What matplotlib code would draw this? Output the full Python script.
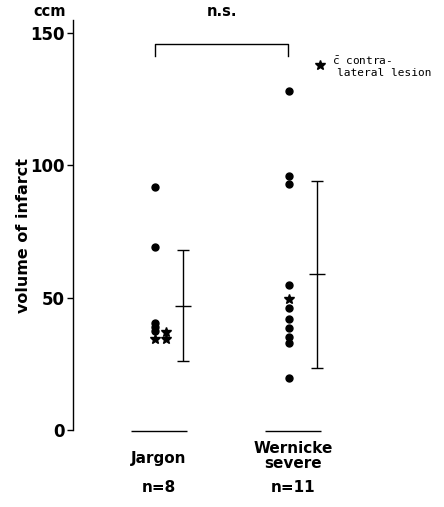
import matplotlib
matplotlib.use("Agg")
import matplotlib.pyplot as plt

# ---- data ----
groups = ["Jargon", "Wernicke\nsevere"]
n_labels = ["n=8", "n=11"]
jargon_circles = [92, 69, 40.5, 39, 37.5]
jargon_stars = [37, 34.5, 34.5]
jargon_star_dx = [0.08, 0.0, 0.08]
wernicke_circles = [128, 96, 93, 55, 46, 42, 38.5, 35, 33, 19.5]
wernicke_stars = [49.5]
means = [47, 59]
err_low = [26, 23.5]
err_high = [68, 94]
yticks = [0, 50, 100, 150]

plt.rcParams['font.family'] = ['DejaVu Sans']
plt.rcParams['mathtext.fontset'] = 'dejavusans'

W, H = 444, 507
fig = plt.figure(figsize=(W / 100, H / 100), dpi=100)

def fx(px):
    return px / W

def fy(py):
    return 1 - py / H

ax = fig.add_axes([fx(73), fy(430), fx(444) - fx(73), fy(20) - fy(430)])
ax.set_xlim(0.388, 3.157)
ax.set_ylim(0, 155)
for s in ["top", "right", "bottom"]:
    ax.spines[s].set_visible(False)
ax.spines["left"].set_linewidth(1.0)
ax.set_xticks([])
ax.set_yticks(yticks)
ax.set_yticklabels([str(v) for v in yticks], fontsize=12, fontweight="bold")
ax.tick_params(axis="y", length=4, width=1, pad=2)

xpos = [1, 2]
# points
ax.plot([xpos[0]] * len(jargon_circles), jargon_circles, "o", color="black",
        ms=5, clip_on=False)
ax.plot([xpos[0] + d for d in jargon_star_dx], jargon_stars, "*", color="black",
        ms=7, clip_on=False)
ax.plot([xpos[1]] * len(wernicke_circles), wernicke_circles, "o", color="black",
        ms=5, clip_on=False)
ax.plot([xpos[1]] * len(wernicke_stars), wernicke_stars, "*", color="black",
        ms=7, clip_on=False)

# error bars (mean and range)
for i, x in enumerate(xpos):
    xe = x + 0.21
    ax.errorbar([xe], [means[i]],
                yerr=[[means[i] - err_low[i]], [err_high[i] - means[i]]],
                fmt="none", ecolor="black", elinewidth=1.0, capsize=4,
                capthick=1.0)
    ax.hlines(means[i], xe - 0.06, xe + 0.06, color="black", lw=1.0)
    # baseline under each group
    ax.hlines(-0.5, x - 0.18, x + 0.24, color="black", lw=1.0, clip_on=False)

# significance bracket
ax.plot([1.0, 1.0, 1.99, 1.99], [141.5, 146, 146, 141.5], color="black",
        lw=1.0, clip_on=False)
fig.text(fx(222), fy(12), "n.s.", ha="center", va="center", fontsize=10.5,
         fontweight="bold")

# legend annotation
ax.plot([2.231], [138], "*", color="black", ms=7, clip_on=False)
ax.text(2.32, 139.5, r"$\bar{\mathtt{c}}$ contra-", fontsize=8,
        family="DejaVu Sans Mono", va="center", ha="left")
ax.text(2.355, 134.8, "lateral lesion", fontsize=8, family="DejaVu Sans Mono",
        va="center", ha="left")

# axis texts
fig.text(fx(50), fy(12), "ccm", ha="center", va="center", fontsize=10.5,
         fontweight="bold")
fig.text(fx(24), fy(236), "volume of infarct", rotation=90, ha="center",
         va="center", fontsize=11.5, fontweight="bold")

# category and n labels
cat_y = [459, 456]
for i, x in enumerate(xpos):
    xc = ax.transData.transform((x + 0.03, 0))[0] / fig.bbox.width
    fig.text(xc, fy(cat_y[i]), groups[i], ha="center", va="center",
             fontsize=11, fontweight="bold", linespacing=0.95)
    fig.text(xc, fy(487), n_labels[i], ha="center", va="center", fontsize=11,
             fontweight="bold")

fig.savefig("out.png", dpi=100)
